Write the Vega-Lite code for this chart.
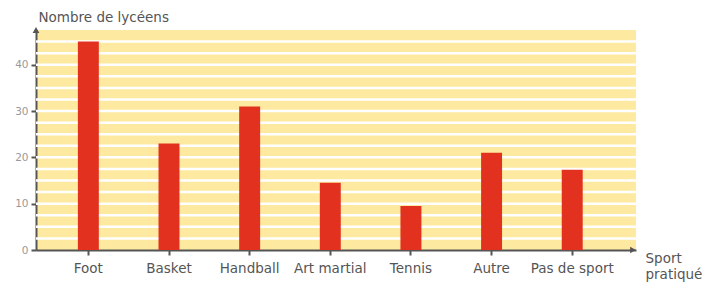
{
  "$schema": "https://vega.github.io/schema/vega-lite/v6.json",
  "autosize": "none",
  "width": 600,
  "height": 220,
  "padding": {"left": 36, "top": 30, "right": 72, "bottom": 36},
  "background": "white",
  "config": {
    "font": "DejaVu Sans",
    "view": {"fill": "#FEE9A0", "stroke": null}
  },
  "datasets": {
    "sports": [
      {"sport": "Foot", "n": 45},
      {"sport": "Basket", "n": 23},
      {"sport": "Handball", "n": 31},
      {"sport": "Art martial", "n": 14.5},
      {"sport": "Tennis", "n": 9.5},
      {"sport": "Autre", "n": 21},
      {"sport": "Pas de sport", "n": 17.3}
    ],
    "grid": [
      {"g": 2.5}, {"g": 5}, {"g": 7.5}, {"g": 10}, {"g": 12.5}, {"g": 15}, {"g": 17.5}, {"g": 20},
      {"g": 22.5}, {"g": 25}, {"g": 27.5}, {"g": 30}, {"g": 32.5}, {"g": 35}, {"g": 37.5}, {"g": 40},
      {"g": 42.5}, {"g": 45}
    ],
    "arrows": [
      {"ax": 0, "ay": 47.5, "shape": "triangle-up"},
      {"ax": 0.995, "ay": 0, "shape": "triangle-right"}
    ]
  },
  "layer": [
    {
      "data": {"name": "grid"},
      "mark": {"type": "rule", "color": "white", "strokeWidth": 2.5},
      "encoding": {
        "y": {"field": "g", "type": "quantitative"}
      }
    },
    {
      "data": {"name": "sports"},
      "mark": {"type": "bar", "color": "#E2321F"},
      "encoding": {
        "x": {
          "field": "sport",
          "type": "nominal",
          "sort": null,
          "scale": {"paddingInner": 0.74, "paddingOuter": 0.59, "align": 0.44},
          "axis": {
            "title": ["Sport", "pratiqué"],
            "titleFont": "DejaVu Sans",
            "titleFontSize": 13.5,
            "titleFontWeight": "normal",
            "titleColor": "#555",
            "titleAlign": "left",
            "titleAnchor": null,
            "titleAngle": 0,
            "titleBaseline": "alphabetic",
            "titleLineHeight": 16,
            "titleX": 609,
            "titleY": 12,
            "labelAngle": 0,
            "labelFontSize": 13.5,
            "labelColor": "#555",
            "labelPadding": 6,
            "tickSize": 5,
            "tickColor": "#555",
            "tickWidth": 2,
            "domainColor": "#555",
            "domainWidth": 2
          }
        },
        "y": {
          "field": "n",
          "type": "quantitative",
          "scale": {"domain": [0, 47.5], "nice": false, "zero": true},
          "axis": {
            "title": "Nombre de lycéens",
            "titleFont": "DejaVu Sans",
            "titleFontSize": 13.5,
            "titleFontWeight": "normal",
            "titleColor": "#555",
            "titleAngle": 0,
            "titleAlign": "left",
            "titleAnchor": null,
            "titleBaseline": "alphabetic",
            "titleX": 2,
            "titleY": -9,
            "values": [0, 10, 20, 30, 40],
            "labelFontSize": 10.5,
            "labelColor": "#999",
            "labelPadding": 3,
            "tickSize": 5,
            "tickColor": "#555",
            "tickWidth": 2,
            "grid": false,
            "domainColor": "#555",
            "domainWidth": 2
          }
        }
      }
    },
    {
      "data": {"name": "arrows"},
      "mark": {"type": "point", "filled": true, "color": "#555", "size": 45, "opacity": 1},
      "encoding": {
        "x": {"field": "ax", "type": "quantitative", "scale": {"domain": [0, 1], "nice": false}, "axis": null},
        "y": {"field": "ay", "type": "quantitative"},
        "shape": {"field": "shape", "type": "nominal", "scale": null, "legend": null}
      }
    }
  ],
  "resolve": {"scale": {"x": "independent"}}
}
